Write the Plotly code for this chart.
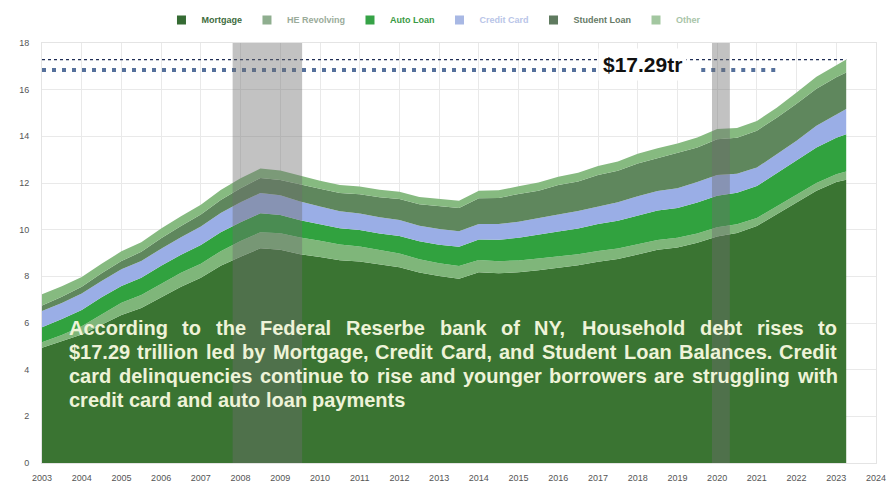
import plotly.graph_objects as go

# Household debt balances by category (trillions of $), half-year observations
periods = [2003.0, 2003.5, 2004.0, 2004.5, 2005.0, 2005.5, 2006.0, 2006.5, 2007.0, 2007.5,
           2008.0, 2008.5, 2009.0, 2009.5, 2010.0, 2010.5, 2011.0, 2011.5, 2012.0, 2012.5,
           2013.0, 2013.5, 2014.0, 2014.5, 2015.0, 2015.5, 2016.0, 2016.5, 2017.0, 2017.5,
           2018.0, 2018.5, 2019.0, 2019.5, 2020.0, 2020.5, 2021.0, 2021.5, 2022.0, 2022.5,
           2023.0, 2023.25]

mortgage = [4.94, 5.21, 5.51, 5.93, 6.34, 6.64, 7.10, 7.55, 7.94, 8.45,
            8.84, 9.20, 9.14, 8.95, 8.83, 8.69, 8.64, 8.50, 8.39, 8.16,
            8.01, 7.90, 8.17, 8.13, 8.17, 8.26, 8.37, 8.48, 8.63, 8.74,
            8.94, 9.14, 9.24, 9.44, 9.71, 9.86, 10.16, 10.67, 11.18, 11.67,
            12.04, 12.14]
he_revolving = [0.24, 0.28, 0.35, 0.45, 0.53, 0.56, 0.58, 0.60, 0.60, 0.63,
                0.67, 0.69, 0.71, 0.71, 0.69, 0.67, 0.64, 0.62, 0.59, 0.57,
                0.55, 0.54, 0.53, 0.52, 0.51, 0.50, 0.48, 0.47, 0.46, 0.45,
                0.44, 0.42, 0.41, 0.40, 0.39, 0.37, 0.34, 0.32, 0.32, 0.33,
                0.34, 0.35]
auto_loan = [0.64, 0.68, 0.70, 0.72, 0.72, 0.74, 0.77, 0.78, 0.80, 0.81,
             0.81, 0.81, 0.78, 0.74, 0.71, 0.70, 0.71, 0.72, 0.75, 0.77,
             0.79, 0.83, 0.88, 0.92, 0.97, 1.01, 1.07, 1.10, 1.15, 1.19,
             1.23, 1.26, 1.28, 1.32, 1.35, 1.35, 1.37, 1.44, 1.47, 1.52,
             1.56, 1.60]
credit_card = [0.69, 0.69, 0.70, 0.70, 0.71, 0.72, 0.73, 0.75, 0.80, 0.82,
               0.85, 0.87, 0.84, 0.81, 0.76, 0.73, 0.70, 0.69, 0.68, 0.67,
               0.68, 0.66, 0.66, 0.67, 0.69, 0.71, 0.73, 0.75, 0.76, 0.80,
               0.82, 0.84, 0.85, 0.88, 0.89, 0.82, 0.79, 0.80, 0.84, 0.93,
               0.99, 1.08]
student_loan = [0.24, 0.26, 0.29, 0.33, 0.36, 0.39, 0.45, 0.48, 0.51, 0.56,
                0.61, 0.64, 0.66, 0.72, 0.76, 0.78, 0.83, 0.86, 0.90, 0.92,
                0.99, 1.00, 1.11, 1.12, 1.19, 1.19, 1.26, 1.26, 1.34, 1.34,
                1.41, 1.41, 1.49, 1.48, 1.54, 1.54, 1.58, 1.57, 1.59, 1.59,
                1.60, 1.57]
other = [0.48, 0.46, 0.42, 0.41, 0.41, 0.41, 0.42, 0.42, 0.42, 0.43,
         0.42, 0.41, 0.41, 0.38, 0.35, 0.34, 0.33, 0.32, 0.31, 0.31,
         0.30, 0.31, 0.32, 0.33, 0.33, 0.35, 0.36, 0.38, 0.39, 0.40,
         0.41, 0.42, 0.42, 0.43, 0.43, 0.42, 0.42, 0.43, 0.48, 0.51,
         0.52, 0.55]

categories = ["Mortgage", "HE Revolving", "Auto Loan", "Credit Card", "Student Loan", "Other"]
series = [mortgage, he_revolving, auto_loan, credit_card, student_loan, other]
fill_colors = ["#3a7432", "#7fb67a", "#31a23f", "#9aaee6", "#5f875d", "#86ba80"]
legend_swatch = ["#356b33", "#8fae8f", "#36a347", "#a8b8e4", "#5f7a5f", "#a3c7a0"]
legend_text = ["#3d6b3d", "#9aab9a", "#3a9a45", "#b9c5e8", "#667a66", "#a8c4a8"]

year_ticks = [2003, 2004, 2005, 2006, 2007, 2008, 2009, 2010, 2011, 2012, 2013,
              2014, 2015, 2016, 2017, 2018, 2019, 2020, 2021, 2022, 2023, 2024]
y_ticks = [0, 2, 4, 6, 8, 10, 12, 14, 16, 18]

recessions = [(2007.8, 2009.55), (2019.87, 2020.32)]
total_label = 17.29
marker_level = 16.84
marker_segments = [(2003.0, 2017.0), (2019.6, 2021.6)]

body_lines = [
    "According to the Federal Reserbe bank of NY, Household debt rises to",
    "$17.29 trillion led by Mortgage, Credit Card, and Student Loan Balances. Credit",
    "card delinquencies continue to rise and younger borrowers are struggling with",
    "credit card and auto loan payments",
]

W, H = 889, 489
ML, MR, MT, MB = 42, 13, 43, 26
PW, PH = W - ML - MR, H - MT - MB

fig = go.Figure()

# stacked areas
for name, vals, col in zip(categories, series, fill_colors):
    fig.add_trace(go.Scatter(
        x=periods, y=vals, name=name, stackgroup="debt", mode="lines",
        line=dict(width=0, color=col), fillcolor=col, showlegend=False,
        hovertemplate=name + ": %{y:.2f}tr<extra></extra>"))

# legend entries with square swatches
for name, sc, tc in zip(categories, legend_swatch, legend_text):
    fig.add_trace(go.Scatter(
        x=[None], y=[None], mode="markers", name=f"<b><span style='color:{tc}'>{name}</span></b>",
        marker=dict(symbol="square", size=9, color=sc)))

# reference lines at the latest total
fig.add_trace(go.Scatter(x=[periods[0], periods[-1]], y=[total_label, total_label], mode="lines",
                         line=dict(color="#1f2d55", width=1.2, dash="dot"),
                         showlegend=False, hoverinfo="skip"))
for x0, x1 in marker_segments:
    fig.add_trace(go.Scatter(x=[x0, x1], y=[marker_level, marker_level], mode="lines",
                             line=dict(color="#56719c", width=4, dash="4px,6px"),
                             showlegend=False, hoverinfo="skip"))

for x0, x1 in recessions:
    fig.add_shape(type="rect", xref="x", yref="paper", x0=x0, x1=x1, y0=0, y1=1,
                  fillcolor="rgba(110,110,110,0.42)", line_width=0, layer="above")

fig.add_annotation(x=2017.0, y=total_label - 0.2, xref="x", yref="y", xanchor="left",
                   text="<b>$17.29tr</b>", showarrow=False, bgcolor="white", borderpad=4,
                   font=dict(family="Liberation Sans, Arial, sans-serif", size=21, color="#111111"))

# justified body text, word by word (Arial Bold advance widths, 1/1000 em)
ADV = {" ": 278, ",": 278, ".": 278, "$": 556, "a": 556, "b": 611, "c": 556, "d": 611, "e": 556,
       "f": 333, "g": 611, "h": 611, "i": 278, "j": 278, "k": 556, "l": 278, "m": 889, "n": 611,
       "o": 611, "p": 611, "q": 611, "r": 389, "s": 556, "t": 333, "u": 611, "v": 556, "w": 778,
       "x": 556, "y": 556, "z": 500, "A": 722, "B": 722, "C": 722, "F": 611, "H": 722, "L": 611,
       "M": 833, "N": 722, "R": 722, "S": 667, "Y": 667}
FS = 20


def text_w(s):
    return sum(ADV.get(ch, 556) for ch in s) * FS / 1000


left_px, right_px = 68, 836
line_y = [328, 352, 376, 400]
for i, (line, py) in enumerate(zip(body_lines, line_y)):
    words = line.split(" ")
    widths = [text_w(w) for w in words]
    if i < len(body_lines) - 1:
        gap = (right_px - left_px - sum(widths)) / (len(words) - 1)
    else:
        gap = text_w(" ")
    px = left_px
    for w, wd in zip(words, widths):
        fig.add_annotation(x=(px - ML) / PW, y=(H - MB - py) / PH, xref="paper", yref="paper",
                           xanchor="left", yanchor="middle", text=f"<b>{w}</b>", showarrow=False,
                           borderpad=0,
                           font=dict(family="Liberation Sans, Arial, sans-serif", size=FS, color="#eef3d8"))
        px += wd + gap

fig.update_layout(
    width=W, height=H, margin=dict(l=ML, r=MR, t=MT, b=MB, autoexpand=False),
    paper_bgcolor="white", plot_bgcolor="white",
    font=dict(family="Liberation Sans, Arial, sans-serif", size=9, color="#555555"),
    legend=dict(orientation="h", x=0.47, y=1.055, xanchor="center", yanchor="middle",
                traceorder="normal", font=dict(size=9), itemwidth=30, bgcolor="rgba(0,0,0,0)"),
    xaxis=dict(range=[2003, 2024], tickvals=year_ticks, ticktext=[str(t) for t in year_ticks],
               showgrid=True, gridcolor="#e9e9e9", zeroline=False, ticks="outside", ticklen=6,
               tickcolor="rgba(0,0,0,0)", showline=True, linecolor="#e4e4e4", mirror=True,
               automargin=False, tickfont=dict(size=9, color="#555555")),
    yaxis=dict(range=[0, 18], tickvals=y_ticks, showgrid=True, gridcolor="#e9e9e9", zeroline=False,
               ticks="outside", ticklen=10, tickcolor="rgba(0,0,0,0)", showline=True,
               linecolor="#e4e4e4", mirror=True, automargin=False,
               tickfont=dict(size=9, color="#555555")),
)

fig.write_html("out.html")
